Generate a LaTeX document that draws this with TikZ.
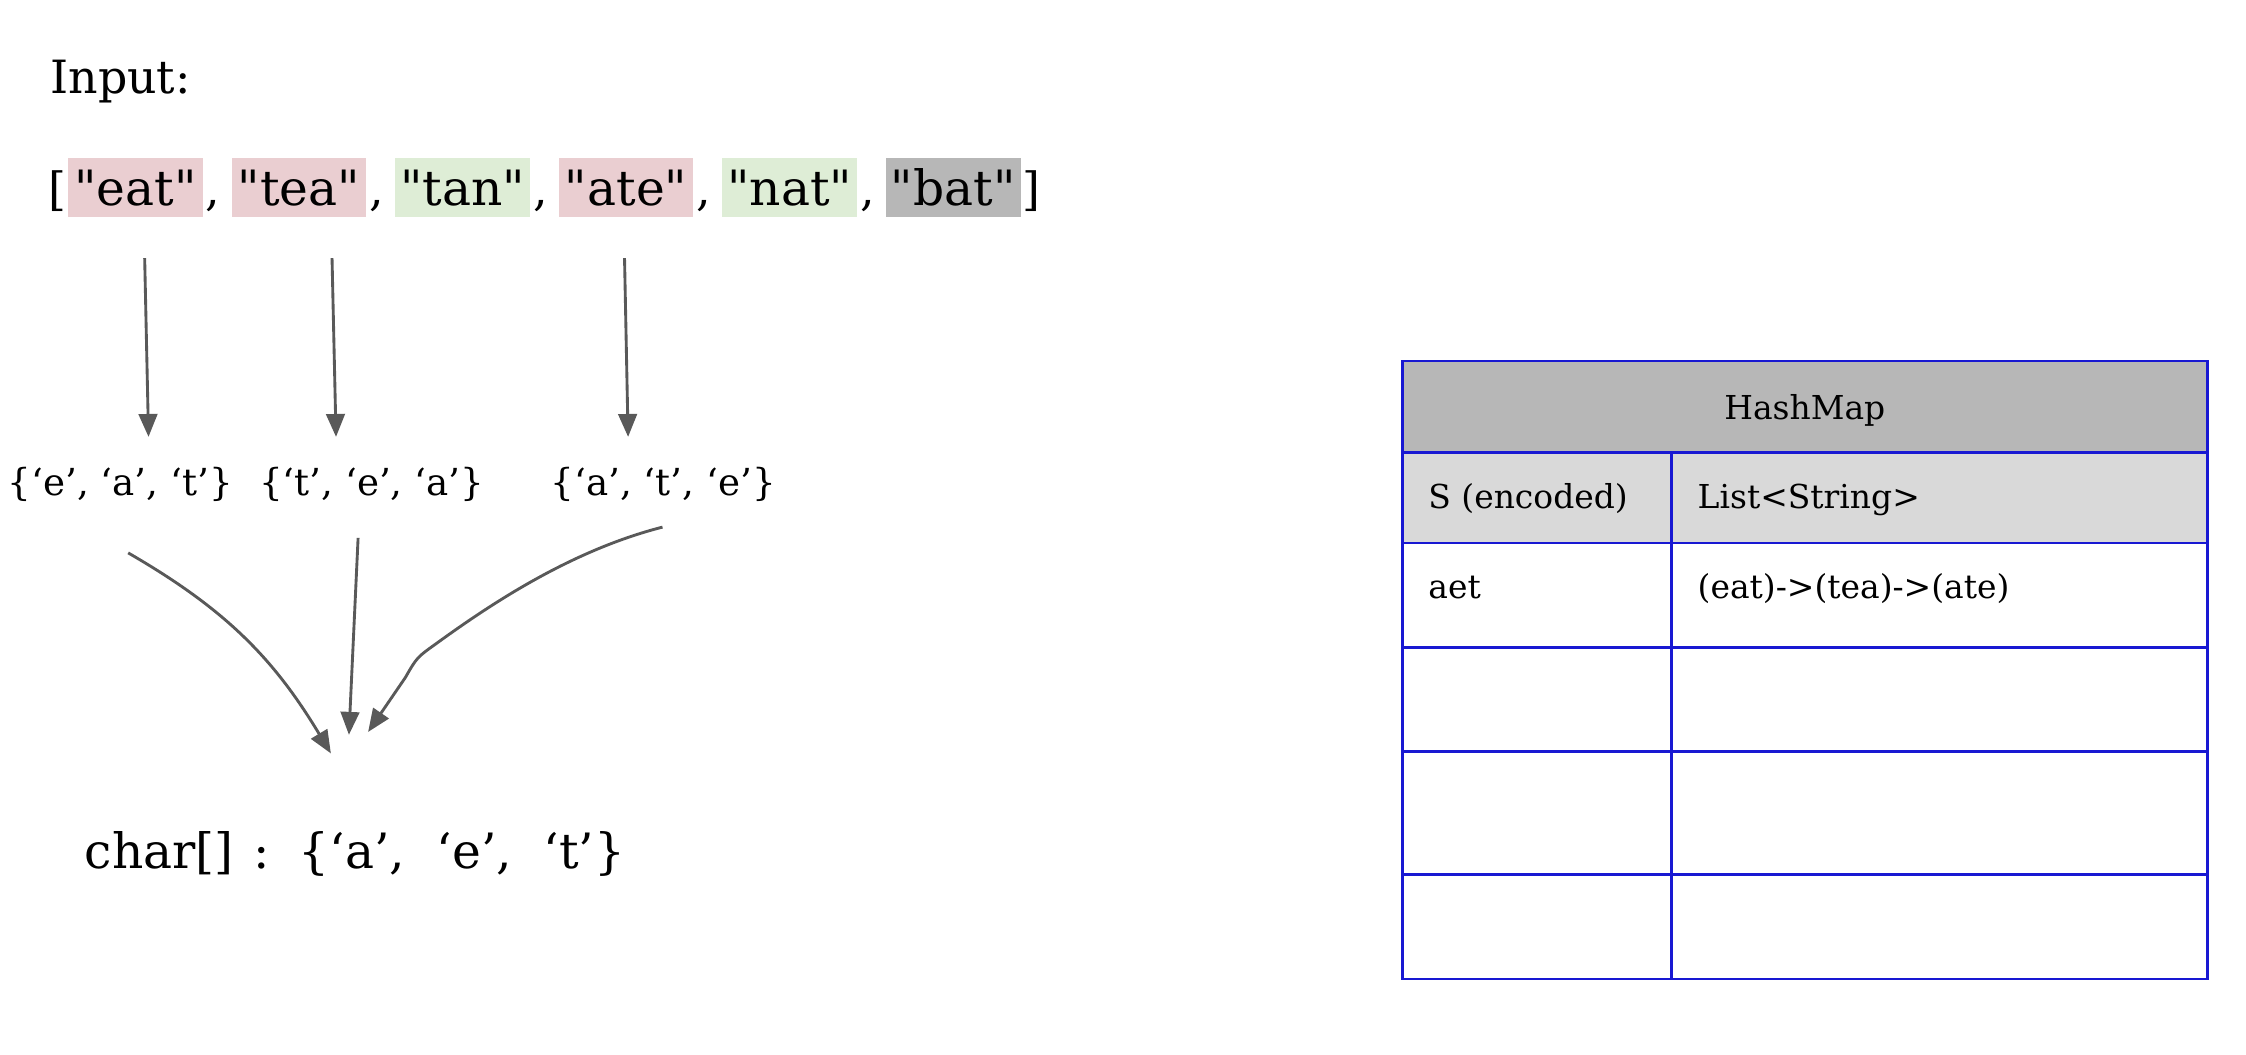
\documentclass[tikz,border=0pt]{standalone}
\usepackage{fontspec}
\setmainfont{DejaVu Serif}[Ligatures=TeXOff]
\usetikzlibrary{arrows.meta}
\definecolor{pinkhl}{RGB}{234,206,209}
\definecolor{greenhl}{RGB}{222,237,214}
\definecolor{grayhl}{RGB}{183,183,183}
\definecolor{hdgray}{RGB}{183,183,183}
\definecolor{subgray}{RGB}{217,217,217}
\definecolor{tblue}{RGB}{24,24,210}
\definecolor{arrgray}{RGB}{89,89,89}

\begin{document}
\begin{tikzpicture}[%
x=1pt, y=1pt,
big/.style={font=\fontsize{32}{38}\selectfont, inner sep=0pt},
word/.style={font=\fontsize{34}{40}\selectfont, inner sep=0pt, minimum width=94pt, minimum height=41pt, text height=25pt, text depth=0pt},
setlbl/.style={font=\fontsize{26}{31}\selectfont, inner sep=0pt, anchor=base},
cell/.style={font=\fontsize{23}{28}\selectfont, inner sep=0pt, anchor=base west},
arr/.style={arrgray, line width=2pt, -{Triangle[length=16pt,width=13pt]}},
tline/.style={tblue, line width=1.8pt}]
\useasboundingbox (0,0) rectangle (1568,736);

\node[big, anchor=base west] (inp) at (35,671) {Input:};
\foreach \w/\c [count=\i] in {eat/pinkhl, tea/pinkhl, tan/greenhl, ate/pinkhl, nat/greenhl, bat/grayhl}
  \node[word, fill=\c] (w\i) at ({94.5+114.2*(\i-1)},605) {"\w"};
\foreach \i in {1,...,5}
  \node[big, anchor=base west, xshift=49pt] (c\i) at (w\i.base) {,};
\node[big, anchor=base east, xshift=-48pt] (lb) at (w1.base) {[};
\node[big, anchor=base west, xshift=48pt] (rb) at (w6.base) {]};

\node[setlbl] (s1) at (84,390) {\{‘e’, ‘a’, ‘t’\}};
\node[setlbl] (s2) at (259.5,390) {\{‘t’, ‘e’, ‘a’\}};
\node[setlbl] (s3) at (463,390) {\{‘a’, ‘t’, ‘e’\}};
\node[big, anchor=base west, font=\fontsize{34}{40}\selectfont] (chr) at (59,130) {char[]\hspace{14pt}:\hspace{20pt}\{‘a’,\hspace{22pt}‘e’,\hspace{22pt}‘t’\}};

\draw[arr] ([shift={(6.5,-28.5)}]w1.south) -- ([shift={(19.7,41)}]s1.base);
\draw[arr] ([shift={(23.1,-28.5)}]w2.south) -- ([shift={(-24.9,41)}]s2.base);
\draw[arr] ([shift={(-1.1,-28.5)}]w4.south) -- ([shift={(-24.5,41)}]s3.base);

\coordinate (tipL) at (231,210);
\coordinate (tipM) at (243.6,223);
\coordinate (tipR) at (257,225);
\draw[arr] ([shift={(5.5,-40)}]s1.base) to[out=-30, in=121] (tipL);
\draw[arr] ([shift={(-9.5,-29.5)}]s2.base) -- (tipM);
\draw[arr] ([shift={(-0.5,-22)}]s3.base) .. controls (400,352) and (345,316) .. (305,287)
  .. controls (291,277) .. (283,263) -- (tipR);

% hash map table
\fill[hdgray] (979,484) rectangle (1541,420);
\fill[subgray] (979,420) rectangle (1541,357);
\draw[tline] (979,484) rectangle (1541,52.5);
\foreach \y in {420,357,284,211.5,125.5}
  \draw[tline] (979,\y) -- (1541,\y);
\draw[tline] (1167,420) -- (1167,52.5);

\node[cell, anchor=base] (hm) at (1260,443.4) {HashMap};
\node[cell] (k0) at (997,381) {S (encoded)};
\node[cell] (v0) at (1185,381) {List<String>};
\node[cell] (k1) at (997,318.4) {aet};
\node[cell] (v1) at (1185,318.4) {(eat)->(tea)->(ate)};
\end{tikzpicture}
\end{document}
